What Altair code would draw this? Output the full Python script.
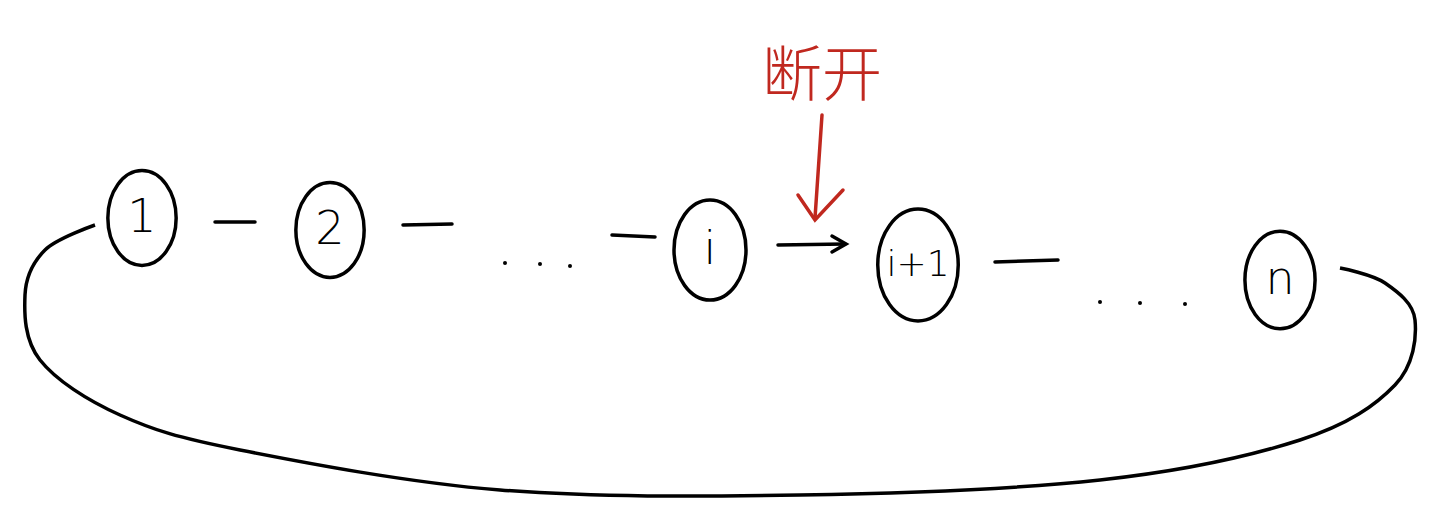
import pandas as pd
import altair as alt

# nodes of the ring
node_x = [142, 330, 710, 918, 1280]
node_y = [218, 230, 250, 265, 280]
node_label = ["1", "2", "i", "i+1", "n"]
node_size = [9000, 9000, 10000, 12500, 9500]
node_font = [46, 46, 46, 36, 46]

# short links between nodes: (group, x, y)
seg_group = ["a", "a", "b", "b", "c", "c", "d", "d", "e", "e",
             "h1", "h1", "h1", "r", "r", "rh", "rh", "rh"]
seg_x = [215, 255, 403, 452, 612, 655, 778, 845, 995, 1058,
         832, 846, 832, 822, 815, 798, 815, 843]
seg_y = [222, 222, 225, 224, 235, 237, 245, 244, 262, 260,
         236, 244, 252, 115, 218, 195, 220, 190]
seg_color = ["black"] * 13 + ["#c0281f"] * 5

# dots
dot_x = [505, 540, 570, 1100, 1140, 1185]
dot_y = [263, 264, 266, 302, 303, 304]

# closing loop
loop_x = [95, 45, 25, 40, 120, 240, 500, 800, 1100, 1300, 1395, 1415, 1385, 1340]
loop_y = [225, 250, 295, 360, 415, 450, 490, 495, 480, 440, 385, 320, 283, 268]

W, H = 1416, 508
xs = alt.Scale(domain=[8, 8 + W])
ys = alt.Scale(domain=[8, 8 + H], reverse=True)
X = lambda f: alt.X(f, scale=xs, axis=None)
Y = lambda f: alt.Y(f, scale=ys, axis=None)

nodes = pd.DataFrame({"x": node_x, "y": node_y, "label": node_label,
                      "s": node_size, "f": node_font})
segs = pd.DataFrame({"g": seg_group, "x": seg_x, "y": seg_y, "c": seg_color,
                     "o": list(range(len(seg_x)))})
dots = pd.DataFrame({"x": dot_x, "y": dot_y})
loop = pd.DataFrame({"x": loop_x, "y": loop_y, "o": list(range(len(loop_x)))})
title = pd.DataFrame({"x": [822], "y": [78], "t": ["断开"]})

ellipse = "M -0.72 0 A 0.72 1 0 1 0 0.72 0 A 0.72 1 0 1 0 -0.72 0 Z"

ring = alt.Chart(nodes).mark_point(shape=ellipse, filled=False, color="black",
                                   strokeWidth=3.5, opacity=1).encode(
    x=X("x"), y=Y("y"), size=alt.Size("s", scale=None, legend=None))
labels = alt.Chart(nodes).mark_text(font="DejaVu Sans", fontWeight=300,
                                    color="black").encode(
    x=X("x"), y=Y("y"), text="label",
    size=alt.Size("f", scale=None, legend=None))
links = alt.Chart(segs).mark_line(strokeWidth=3.5, strokeCap="round").encode(
    x=X("x"), y=Y("y"), detail="g", order="o",
    color=alt.Color("c", scale=None))
dotmarks = alt.Chart(dots).mark_circle(size=16, color="black", opacity=1).encode(
    x=X("x"), y=Y("y"))
loopline = alt.Chart(loop).mark_line(strokeWidth=3.5, color="black",
                                     interpolate="cardinal").encode(
    x=X("x"), y=Y("y"), order="o")
red = alt.Chart(title).mark_text(fontSize=60, font="Noto Sans CJK SC",
                                 fontWeight=300, color="#c0281f").encode(
    x=X("x"), y=Y("y"), text="t")

chart = alt.layer(loopline, links, ring, labels, dotmarks, red).properties(
    width=W, height=H, padding=0, autosize="none", background="white"
).configure_view(strokeOpacity=0)

chart.save("out.html", embed_options={"renderer": "svg", "actions": False})
